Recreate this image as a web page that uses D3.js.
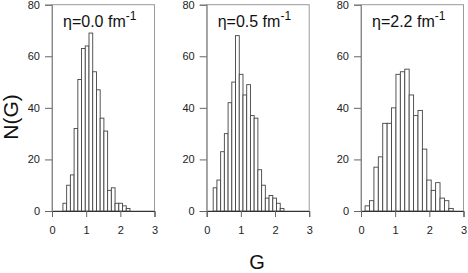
<!DOCTYPE html>
<html>
<head>
<meta charset="utf-8">
<script src="https://cdn.jsdelivr.net/npm/d3@7"></script>
<style>
  body { margin: 0; background: #fff; }
  text { font-family: "Liberation Sans", Arial, sans-serif; }
</style>
</head>
<body>
<script>
var width = 468,
    height = 273;

// eta values shown in the panel labels
var etaLabels = ['0.0', '0.5', '2.2'];
// left edge of the first bin and bin width, in G
var binStarts = [0.32, 0.19, 0.12];
var binWidths = [0.109, 0.109, 0.129];
// counts per bin
var counts0 = [3, 10, 14, 32, 51, 63, 64, 69, 54, 47, 36, 31, 8, 9, 3, 3, 2, 1];
var counts1 = [9, 12, 23, 30, 42, 50, 68, 53, 45, 49, 37, 36, 16, 10, 5, 6, 5, 3, 1];
var counts2 = [2, 4, 17, 21, 34, 34, 40, 53, 54, 55, 45, 37, 39, 24, 12, 8, 11, 5, 4, 1];
var xTicks = [0, 1, 2, 3];
var yTicks = [0, 20, 40, 60, 80];

var allCounts = [counts0, counts1, counts2];
var panelLefts = [52, 206.7, 361];
var panelW = 102.5,
    plotTop = 4.7,
    plotBottom = 211;

var svg = d3.select('body')
  .append('svg')
  .attr('width', width)
  .attr('height', height);

var y = d3.scaleLinear().domain([0, 80]).range([plotBottom, plotTop]);

allCounts.forEach(function (counts, i) {
  var x = d3.scaleLinear().domain([0, 3]).range([panelLefts[i], panelLefts[i] + panelW]);
  var bins = counts.map(function (c, j) {
    return {x0: binStarts[i] + j * binWidths[i], x1: binStarts[i] + (j + 1) * binWidths[i], n: c};
  });

  var g = svg.append('g');

  // box
  g.append('rect')
    .attr('x', x(0))
    .attr('y', y(80))
    .attr('width', x(3) - x(0))
    .attr('height', y(0) - y(80))
    .attr('fill', 'none')
    .attr('stroke', '#9a9a9a')
    .attr('stroke-width', 1);

  g.selectAll('rect.bar')
    .data(bins)
    .enter().append('rect')
    .attr('class', 'bar')
    .attr('x', function (d) { return x(d.x0); })
    .attr('y', function (d) { return y(d.n); })
    .attr('width', function (d) { return x(d.x1) - x(d.x0); })
    .attr('height', function (d) { return y(0) - y(d.n); })
    .attr('fill', 'white')
    .attr('stroke', '#444')
    .attr('stroke-width', 0.9);

  var yAxis = g.append('g')
    .attr('transform', 'translate(' + x(0) + ',0)')
    .call(d3.axisLeft(y).tickValues(yTicks).tickSize(7).tickPadding(5));
  yAxis.select('.domain').attr('stroke', '#888');

  var xAxis = g.append('g')
    .attr('transform', 'translate(0,' + y(0) + ')')
    .call(d3.axisBottom(x).tickValues(xTicks).tickSize(6).tickPadding(9).tickFormat(d3.format('d')));
  xAxis.select('.domain').attr('stroke', '#333');

  g.selectAll('.tick line').attr('stroke', '#666');
  g.selectAll('.tick text')
    .attr('fill', '#222')
    .style('font-size', '11px')
    .style('font-family', '"Liberation Sans", Arial, sans-serif');

  var label = g.append('text')
    .attr('x', x(0) + 11)
    .attr('y', 27)
    .attr('fill', '#111')
    .style('font-size', '16px');
  label.append('tspan').text('\u03b7=' + etaLabels[i] + ' fm');
  label.append('tspan')
    .attr('dy', -7)
    .style('font-size', '12px')
    .text('-1');
});

svg.append('text')
  .attr('transform', 'translate(18,117) rotate(-90)')
  .attr('text-anchor', 'middle')
  .attr('fill', '#111')
  .style('font-size', '21px')
  .text('N(G)');

svg.append('text')
  .attr('x', 257)
  .attr('y', 269)
  .attr('text-anchor', 'middle')
  .attr('fill', '#111')
  .style('font-size', '20px')
  .text('G');
</script>
</body>
</html>
